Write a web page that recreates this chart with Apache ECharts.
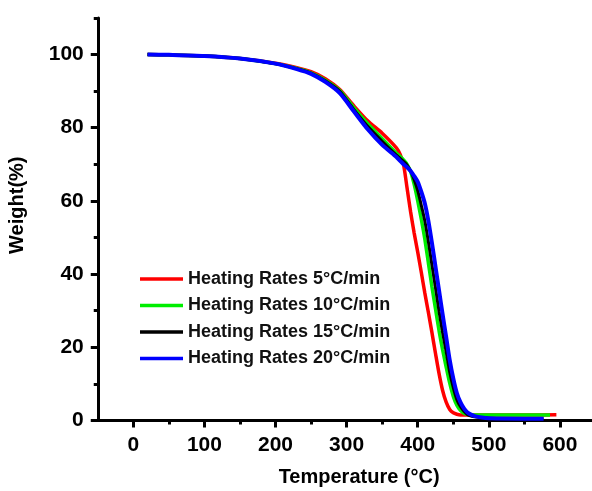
<!doctype html>
<html>
<head>
<meta charset="utf-8">
<title>TGA curves</title>
<script src="https://cdn.jsdelivr.net/npm/echarts@6/dist/echarts.min.js"></script>
<style>
  html, body { margin: 0; padding: 0; background: #fff; }
  #main { width: 592px; height: 491px; }
</style>
</head>
<body>
<div id="main"></div>
<script>
// temperatures (°C) shared by all curves
var temps = [20, 50, 100, 150, 200, 230, 250, 270, 290, 310, 330, 350, 370, 375,
             380, 385, 390, 395, 400, 405, 410, 415, 420, 425, 430, 435, 440, 445, 450, 455,
             460, 465, 470, 475, 480, 490, 500, 550];

// weight (%) per heating rate
var rate5 = [100, 99.9, 99.6, 98.9, 97.6, 96.4, 95.3, 93.4, 90.5, 86, 81.8, 78.5, 74.5, 72.8,
             70, 63.5, 57, 51.2, 46, 40.5, 34.8, 29.5, 24, 18.3, 12.8, 8.2, 5, 3, 2.1, 1.7,
             1.5, 1.5, 1.5, 1.5, 1.5, 1.5, 1.5, 1.5];
var rate10 = [100, 99.9, 99.6, 98.9, 97.5, 96.2, 95, 93, 90.2, 85.5, 81, 77, 73, 72.2,
              71.2, 70, 68, 64.5, 60, 55, 49.5, 43, 36.5, 30.5, 24.5, 19.3, 14.6, 10.2, 6.6, 4.2,
              2.8, 2, 1.7, 1.6, 1.5, 1.5, 1.5, 1.5];
var rate15 = [100, 99.9, 99.6, 98.9, 97.5, 96.1, 94.9, 92.8, 90, 85, 80.3, 76.3, 72.5, 71.7,
              70.8, 69.8, 68.2, 65.8, 62.8, 58.8, 54.5, 48.8, 42.5, 36.2, 29.8, 24, 18.8, 13.2, 9, 5.7,
              3.8, 2.5, 1.6, 1.2, 1, 0.8, 0.6, 0.5];
var rate20 = [100, 99.9, 99.6, 98.9, 97.5, 96, 94.7, 92.5, 89.5, 84.5, 79.5, 75.3, 72, 71,
              70, 69.2, 68.2, 66.8, 65.2, 62.5, 59.3, 54.5, 48.5, 42, 35.5, 29, 22.8, 16.5, 11.5, 7.5,
              5, 3.3, 2.2, 1.6, 1.2, 0.8, 0.6, 0.5];
// last point of each curve [temp, weight]
var ends = [[595, 1.6], [586, 1.5], [577, 0.5], [577, 0.5]];

var names = ['Heating Rates 5°C/min', 'Heating Rates 10°C/min', 'Heating Rates 15°C/min', 'Heating Rates 20°C/min'];
var colors = ['#ff0000', '#00ee00', '#000000', '#0000ff'];
var widths = [3.5, 3.5, 3, 4];

var xLabels = [0, 100, 200, 300, 400, 500, 600];
var xMinor = [50, 150, 250, 350, 450, 550];
var yLabels = [0, 20, 40, 60, 80, 100];
var yMinor = [10, 30, 50, 70, 90, 110];

var font = 'Liberation Sans, Arial, sans-serif';

function pairs(ws, end) {
  var out = temps.map(function (t, i) { return [t, ws[i]]; });
  out.push(end);
  return out;
}

var curves = [rate5, rate10, rate15, rate20];

var chart = echarts.init(document.getElementById('main'), null, { renderer: 'canvas' });

var box = { left: 97.75, right: -3.5, top: 17.9, bottom: 70.5, containLabel: false, outerBoundsMode: 'none' };
var tickStyle = { width: 3, color: '#000' };

chart.setOption({
  animation: false,
  backgroundColor: '#fff',
  // second grid sits on top of the first and only carries the minor ticks
  grid: [box, box],
  legend: {
    orient: 'vertical',
    left: 140,
    top: 270,
    padding: 0,
    icon: 'rect',
    itemWidth: 43,
    itemHeight: 3.5,
    itemGap: 8.5,
    data: names,
    textStyle: { fontFamily: font, fontSize: 18, fontWeight: 'bold', color: '#111' }
  },
  xAxis: [{
    type: 'value', min: -50, max: 650, gridIndex: 0,
    name: 'Temperature (°C)', nameLocation: 'middle', nameGap: 47,
    nameTextStyle: { fontFamily: font, fontSize: 20, fontWeight: 'bold', color: '#000', padding: [0, 0, 0, 25] },
    axisLine: { show: true, onZero: false, lineStyle: { color: '#000', width: 3 } },
    axisTick: { show: true, customValues: xLabels, length: 7, lineStyle: tickStyle },
    axisLabel: { customValues: xLabels, margin: 14, fontFamily: font, fontSize: 21, fontWeight: 'bold', color: '#000' },
    splitLine: { show: false }
  }, {
    type: 'value', min: -50, max: 650, gridIndex: 1,
    axisLine: { show: false, onZero: false },
    axisTick: { show: true, customValues: xMinor, length: 4, lineStyle: tickStyle },
    axisLabel: { show: false },
    splitLine: { show: false }
  }],
  yAxis: [{
    type: 'value', min: 0, max: 110, gridIndex: 0,
    name: 'Weight(%)', nameLocation: 'middle', nameGap: 70, nameRotate: 90,
    nameTextStyle: { fontFamily: font, fontSize: 20, fontWeight: 'bold', color: '#000', padding: [0, 0, 0, 28] },
    axisLine: { show: true, onZero: false, lineStyle: { color: '#000', width: 3 } },
    axisTick: { show: true, customValues: yLabels, length: 7, lineStyle: tickStyle },
    axisLabel: { customValues: yLabels, margin: 14, fontFamily: font, fontSize: 21, fontWeight: 'bold', color: '#000' },
    splitLine: { show: false }
  }, {
    type: 'value', min: 0, max: 110, gridIndex: 1,
    axisLine: { show: false, onZero: false },
    axisTick: { show: true, customValues: yMinor, length: 4, lineStyle: tickStyle },
    axisLabel: { show: false },
    splitLine: { show: false }
  }],
  series: curves.map(function (ws, i) {
    return {
      name: names[i],
      type: 'line',
      xAxisIndex: 0,
      yAxisIndex: 0,
      data: pairs(ws, ends[i]),
      symbol: 'none',
      smooth: 0.25,
      color: colors[i],
      lineStyle: { color: colors[i], width: widths[i] }
    };
  })
});
</script>
</body>
</html>
